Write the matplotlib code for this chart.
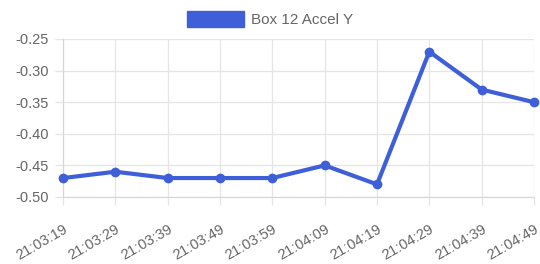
import matplotlib
matplotlib.use("Agg")
import matplotlib.pyplot as plt
from matplotlib.patches import Patch

times = ["21:03:19", "21:03:29", "21:03:39", "21:03:49", "21:03:59",
         "21:04:09", "21:04:19", "21:04:29", "21:04:39", "21:04:49"]
accel_y = [-0.47, -0.46, -0.47, -0.47, -0.47, -0.45, -0.48, -0.27, -0.33, -0.35]
yticks = [-0.50, -0.45, -0.40, -0.35, -0.30, -0.25]
series_name = "Box 12 Accel Y"

plt.rcParams['font.family'] = ['Liberation Sans', 'DejaVu Sans']
color = "#3f5fd9"
grid_c = "#e5e5e5"
text_c = "#666666"

fig = plt.figure(figsize=(5.4, 2.64), dpi=100)
ax = fig.add_axes([63/540, 1-197/264, (534-63)/540, (197-39)/264])
x = list(range(len(times)))
ax.plot(x, accel_y, color=color, lw=3, marker='o', ms=6, mfc=color, mec=color,
        solid_joinstyle='miter', clip_on=False, zorder=3)
ax.set_xlim(0, len(times)-1)
ax.set_ylim(-0.50, -0.25)
ax.set_yticks(yticks)
ax.set_yticklabels([f"{v:.2f}" for v in yticks])
ax.set_xticks(x)
ax.set_xticklabels(times, rotation=30, ha='right', va='top', rotation_mode='anchor')
ax.grid(True, color=grid_c, lw=0.9)
for s in ax.spines.values():
    s.set_visible(False)
ax.spines['left'].set_visible(True)
ax.spines['bottom'].set_visible(True)
ax.spines['left'].set_color("#d5d5d5")
ax.spines['bottom'].set_color("#d5d5d5")
ax.tick_params(axis='both', colors=grid_c, labelcolor=text_c, labelsize=10.5, length=6, width=0.9)
ax.tick_params(axis='y', pad=4)
ax.tick_params(axis='x', pad=12)

fig.legend(handles=[Patch(facecolor=color, edgecolor=color, label=series_name)],
           loc='upper center', bbox_to_anchor=(0.5, 1.0), frameon=False,
           handlelength=3.7, handleheight=1.3, handletextpad=0.45, fontsize=11,
           labelcolor=text_c, borderaxespad=0.3)
fig.savefig("out.png", dpi=100)
